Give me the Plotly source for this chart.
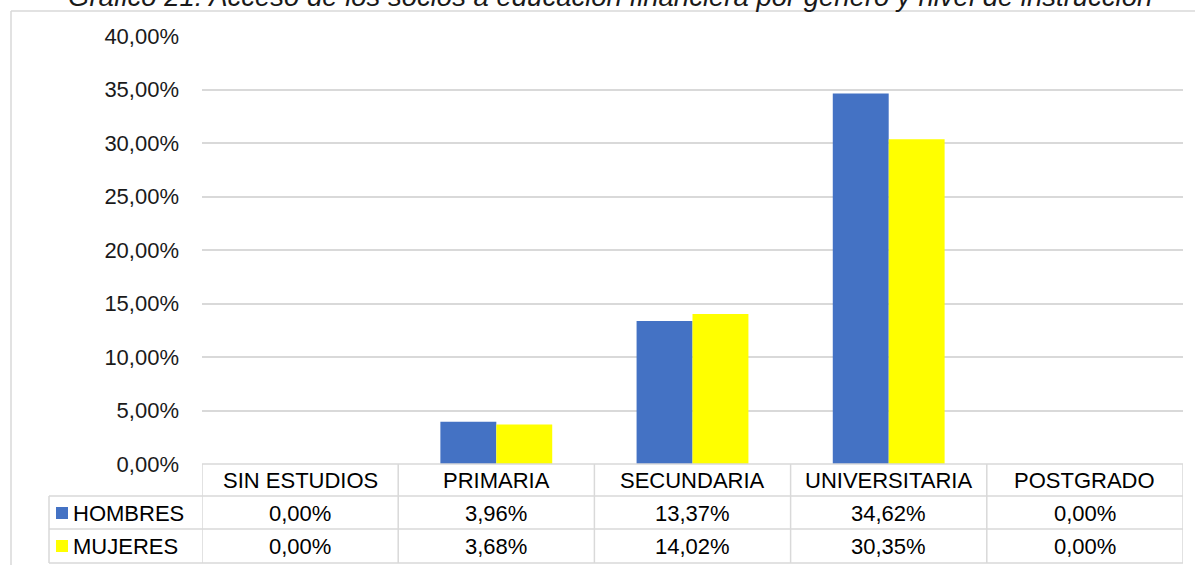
import plotly.graph_objects as go

categories = ["SIN ESTUDIOS", "PRIMARIA", "SECUNDARIA", "UNIVERSITARIA", "POSTGRADO"]
series_names = ["HOMBRES", "MUJERES"]
hombres = [0.00, 3.96, 13.37, 34.62, 0.00]
mujeres = [0.00, 3.68, 14.02, 30.35, 0.00]
colors = ["#4472C4", "#FFFF00"]
title = "Gráfico 21: Acceso de los socios a educación financiera por género y nivel de instrucción"
yticks = [0, 5, 10, 15, 20, 25, 30, 35, 40]

W, H = 1195, 565
ML, MR, MT, MB = 202, 12, 36, 101
PW, PH = W - ML - MR, H - MT - MB


def px(x):
    return (x - ML) / PW


def py(y):
    return (H - MB - y) / PH


FONT = "Liberation Sans, Arial, sans-serif"
LINE = "#D9D9D9"

fig = go.Figure()
for name, vals, col in zip(series_names, [hombres, mujeres], colors):
    fig.add_trace(go.Bar(
        x=categories, y=[v / 100 for v in vals], name=name,
        marker=dict(color=col, line=dict(width=0)), showlegend=False,
    ))

shapes = []
annotations = []

# chart frame
shapes.append(dict(type="line", xref="paper", yref="paper", x0=px(11), x1=px(1200), y0=py(11), y1=py(11),
                   line=dict(color=LINE, width=1.5)))
shapes.append(dict(type="line", xref="paper", yref="paper", x0=px(11), x1=px(11), y0=py(11), y1=py(570),
                   line=dict(color=LINE, width=1.5)))

# data table
row_y = [464, 496, 529, 563]
n = len(categories)
for i, yy in enumerate(row_y):
    x0 = px(49) if i > 0 else px(ML)
    shapes.append(dict(type="line", xref="paper", yref="paper", x0=x0, x1=1, y0=py(yy), y1=py(yy),
                       line=dict(color=LINE, width=1.5)))
for k in range(n + 1):
    shapes.append(dict(type="line", xref="x", yref="paper", x0=k - 0.5, x1=k - 0.5, y0=py(464), y1=py(563),
                       line=dict(color=LINE, width=1.5)))
shapes.append(dict(type="line", xref="paper", yref="paper", x0=px(49), x1=px(49), y0=py(496), y1=py(563),
                   line=dict(color=LINE, width=1.5)))

cell_font = dict(family=FONT, size=22, color="#000000")
for k, cat in enumerate(categories):
    annotations.append(dict(x=cat, y=py(481), xref="x", yref="paper", text=cat, showarrow=False,
                            xanchor="center", yanchor="middle", font=cell_font))
for r, (name, vals, col) in enumerate(zip(series_names, [hombres, mujeres], colors)):
    yc = [513, 546][r]
    for cat, v in zip(categories, vals):
        annotations.append(dict(x=cat, y=py(yc), xref="x", yref="paper",
                                text=f"{v:.2f}%".replace(".", ","), showarrow=False,
                                xanchor="center", yanchor="middle", font=cell_font))
    shapes.append(dict(type="rect", xref="paper", yref="paper", x0=px(56), x1=px(68),
                       y0=py(yc - 6), y1=py(yc + 6), fillcolor=col, line=dict(width=0)))
    annotations.append(dict(x=px(71), y=py(yc), xref="paper", yref="paper", text=name, showarrow=False,
                            xanchor="left", yanchor="middle", font=cell_font))

annotations.append(dict(x=px(610), y=py(-3.5), xref="paper", yref="paper", text=f"<i>{title}</i>",
                        showarrow=False, xanchor="center", yanchor="middle",
                        font=dict(family=FONT, size=27.5, color="#1a1a1a")))

fig.update_layout(
    width=W, height=H,
    margin=dict(l=ML, r=MR, t=MT, b=MB),
    paper_bgcolor="white", plot_bgcolor="white",
    separators=",.",
    barmode="group", bargap=0.43, bargroupgap=0,
    shapes=shapes, annotations=annotations,
    xaxis=dict(range=[-0.5, n - 0.5], showticklabels=False, showgrid=False, zeroline=False,
               showline=False, ticks=""),
    yaxis=dict(range=[0, 0.40], tickvals=[t / 100 for t in yticks], tickformat=".2%",
               showgrid=True, gridcolor=LINE, gridwidth=1.5, zeroline=False, showline=False,
               ticks="", ticklabelstandoff=22,
               tickfont=dict(family=FONT, size=22, color="#1a1a1a")),
)

fig.write_html("out.html", config={"displayModeBar": False},
               post_script="document.body.style.margin='0px';document.body.style.overflow='hidden';")
